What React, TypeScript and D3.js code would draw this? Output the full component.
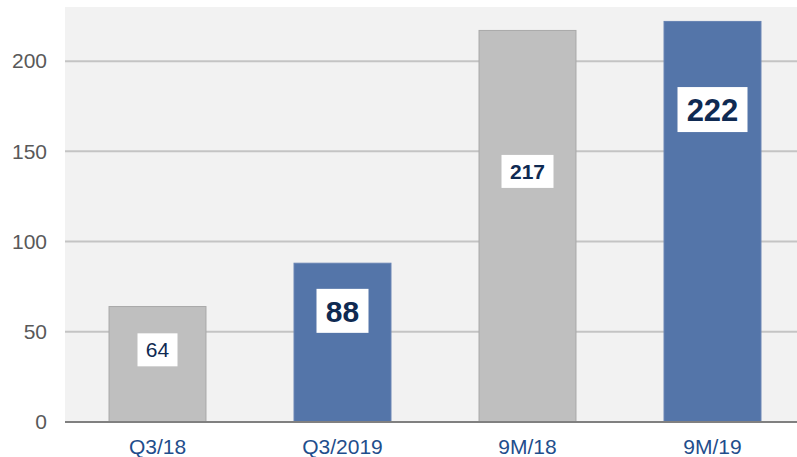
import React from "react";
import * as d3 from "d3";

const categories = ["Q3/18", "Q3/2019", "9M/18", "9M/19"];
const values = [64, 88, 217, 222];
const yTicks = [0, 50, 100, 150, 200];

export default function App() {
  const W = 797, H = 457;
  const left = 65, top = 7, bottom = 422;
  const x = d3.scaleBand<string>().domain(categories).range([left, left + 4 * 185]).paddingInner(0.476).paddingOuter(0.238);
  const y = d3.scaleLinear().domain([0, 230]).range([bottom, top]);
  const barColors = ["#bfbfbf", "#5475a9", "#bfbfbf", "#5475a9"];
  const strokeColors = ["#a9a9a9", "#6683b3", "#a9a9a9", "#6683b3"];
  const labelFrac = [0.625, 0.7, 0.64, 0.78];
  const fontSize = [21, 30, 21, 31];
  const boxW = [40, 52, 52, 70];
  const boxH = [33, 44, 33, 45];
  return (
    <svg width={W} height={H} style={{ display: "block", position: "absolute", left: 0, top: 0 }} fontFamily="'Liberation Sans', Arial, sans-serif">
      <rect x={0} y={0} width={W} height={H} fill="#ffffff" />
      <rect x={left} y={top} width={W - left} height={bottom - top} fill="#f2f2f2" />
      {yTicks.filter(t => t > 0).map(t => (
        <line key={t} x1={left} x2={W} y1={y(t)} y2={y(t)} stroke="#c4c4c4" strokeWidth={2} />
      ))}
      {yTicks.map(t => (
        <text key={"t" + t} x={47} y={y(t)} dy="0.35em" textAnchor="end" fontSize={21} fill="#595959">{t}</text>
      ))}
      {categories.map((c, i) => (
        <rect key={c} x={x(c)!} y={y(values[i])} width={x.bandwidth()} height={bottom - y(values[i])}
          fill={barColors[i]} stroke={strokeColors[i]} strokeWidth={1} />
      ))}
      <line x1={left} x2={W} y1={bottom} y2={bottom} stroke="#808080" strokeWidth={2} />
      {categories.map((c, i) => {
        const cx = x(c)! + x.bandwidth() / 2;
        const cy = y(values[i] * labelFrac[i]);
        return (
          <g key={"l" + c}>
            <rect x={cx - boxW[i] / 2} y={cy - boxH[i] / 2} width={boxW[i]} height={boxH[i]} fill="#ffffff" />
            <text x={cx} y={cy} dy="0.36em" textAnchor="middle" fontSize={fontSize[i]} fontWeight={i === 0 ? "normal" : "bold"} fill="#0f2a52">{values[i]}</text>
          </g>
        );
      })}
      {categories.map(c => (
        <text key={"x" + c} x={x(c)! + x.bandwidth() / 2} y={446.5} dy="0.35em" textAnchor="middle" fontSize={21} fill="#1f4e8c">{c}</text>
      ))}
    </svg>
  );
}
